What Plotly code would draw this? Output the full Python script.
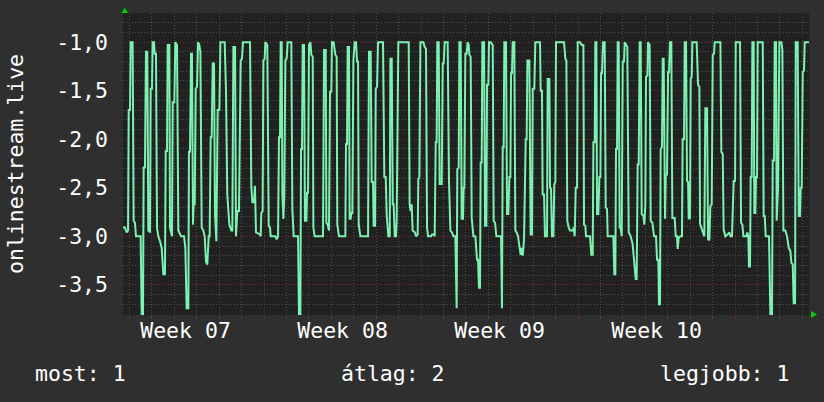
import pandas as pd
import plotly.graph_objects as go

# ---------------- data ----------------
start = pd.Timestamp("2024-02-12 17:06")
end = pd.Timestamp("2024-03-14 07:06")

hours = [
    0.0, 2.1, 3.9, 5.4, 6.1, 7.5, 8.2, 10.3, 11.4, 12.8, 13.9, 18.9, 20.0, 21.4, 22.1, 23.5,
    24.6, 26.0, 27.1, 28.9, 29.6, 31.0, 31.7, 33.2, 33.9, 35.3, 36.4, 37.8, 39.6, 41.4, 43.2, 44.9,
    45.7, 47.1, 47.8, 49.6, 50.3, 52.4, 53.2, 54.9, 56.0, 57.8, 59.2, 62.1, 65.3, 66.7, 68.1, 69.9,
    70.6, 71.7, 72.8, 73.8, 74.9, 75.6, 76.7, 77.8, 79.2, 80.3, 81.7, 82.8, 84.2, 86.0, 87.4, 88.8,
    90.2, 91.7, 92.7, 93.8, 94.9, 96.0, 97.4, 98.4, 99.9, 101.3, 103.1, 104.2, 108.8, 110.2, 111.6, 113.8,
    115.9, 117.0, 118.1, 119.9, 120.9, 122.3, 124.1, 124.8, 125.9, 127.3, 128.4, 135.9, 137.3, 138.4, 140.2, 141.2,
    142.3, 146.6,
    147.3, 148.0, 149.4, 150.2, 151.6, 152.3, 154.4, 155.9, 157.3, 158.0, 163.0, 164.4, 165.9, 166.9, 168.0, 168.7,
    169.8, 170.5, 171.6, 172.6, 173.7, 175.1, 176.2, 180.1, 181.2, 182.6, 187.3, 188.3, 189.8, 190.5, 191.5, 192.3,
    193.7, 194.7, 196.2, 196.9, 198.0, 199.0, 200.5, 201.5, 203.0, 203.7, 205.1, 214.0, 215.1, 216.9, 217.6, 219.0,
    220.4, 221.5, 222.9, 223.6, 225.4, 227.2, 228.6, 229.3, 231.1, 237.9, 238.6, 239.7, 240.4, 241.8, 242.5, 243.6,
    244.3, 245.4, 246.5, 247.9, 249.3, 250.4, 251.5, 252.2, 254.0, 262.2, 263.2, 265.0, 266.1, 267.5, 268.2, 269.7,
    270.4, 271.8, 272.9, 278.2, 279.6, 281.1, 282.1, 283.9, 285.4, 286.1, 287.5, 288.6, 289.6, 290.7, 292.1, 292.8,
    294.6, 305.7, 306.7, 307.8, 308.9, 309.9, 312.4, 313.5, 315.3, 316.0, 317.1, 318.2, 321.4, 322.8, 324.2, 325.3,
    326.4, 329.6, 330.6, 332.4, 333.5, 334.6, 335.6, 336.3, 337.8, 338.8, 341.0, 342.1, 343.1, 344.2, 347.4, 348.8,
    350.3, 352.0, 353.5, 355.6, 357.0, 357.7, 359.2, 359.9, 361.3, 362.4, 363.8, 364.5, 365.2, 366.3, 367.7, 368.8,
    369.9, 370.6, 372.0, 373.1, 374.9, 377.0, 378.8, 379.9, 380.9, 382.0, 382.7, 383.8, 384.5, 386.3, 387.4, 388.8,
    389.5, 390.9, 391.6, 393.4, 395.6, 396.6, 398.1, 399.5, 404.5, 405.5, 406.3, 407.3, 408.0, 409.8, 410.9, 412.3,
    413.4, 414.5, 415.2, 416.2, 417.0, 418.7, 419.8, 421.2, 422.7, 424.1, 425.5, 426.6, 427.7, 429.1, 430.9, 431.9,
    432.7, 434.8, 436.2, 437.6, 438.4, 440.1, 441.2,
    446.2, 446.9, 448.3, 449.0, 450.5, 451.5, 453.7, 454.4, 456.2, 456.9, 458.0, 459.0, 460.5, 461.5, 462.6, 463.3,
    471.9, 473.3, 474.4, 475.4, 476.9, 478.3, 481.2, 482.2, 483.3, 484.4, 485.8, 486.5, 489.0, 490.8, 492.6, 493.3,
    494.7, 495.4, 499.7, 501.1, 502.6, 503.3, 504.7, 505.4, 506.5, 507.2, 508.6, 509.7, 510.8, 511.5, 512.5, 513.6,
    515.4, 516.5, 517.9, 518.6, 524.7, 525.7, 526.8, 527.5, 528.6, 529.3, 530.4, 531.4, 532.5, 533.6, 534.7, 536.1,
    536.8, 538.6, 539.6, 541.1, 543.2, 545.3, 546.8, 548.6, 549.6, 550.7, 551.8, 552.8, 553.9, 555.0, 556.8, 557.8,
    558.9, 559.6, 561.1, 561.8, 563.5, 564.6, 566.4, 568.2, 570.3, 571.4, 572.8, 573.5, 574.6, 575.3, 576.7, 577.5,
    578.5, 579.2, 580.0, 580.7, 582.1, 583.2, 584.2, 585.3, 586.7, 587.8, 588.9,
    590.3, 591.4, 592.8, 593.5, 594.6, 596.3, 598.1, 598.8, 600.3, 601.0, 602.4, 603.5, 604.6, 605.3, 606.7, 607.4,
    608.5, 609.2, 613.8, 615.3, 616.7, 617.4, 618.8, 620.6, 622.0, 623.1, 624.9, 626.0, 627.4, 628.4, 629.9, 631.0,
    632.4, 633.1, 639.2, 640.2, 641.7, 642.7, 644.5, 647.0, 648.8, 649.9, 651.6, 653.4, 654.9, 655.6, 660.2, 661.3,
    662.7, 663.8, 667.0, 668.0, 669.1, 669.8, 670.9, 671.6, 672.7, 673.4, 674.8, 675.5, 676.6, 677.3, 678.4, 679.1,
    684.5, 685.5, 686.6, 687.7, 691.2, 692.7, 694.4, 695.2, 696.6, 697.3, 698.7, 699.4, 700.9, 702.3, 704.4, 705.5,
    706.6, 708.7, 710.5, 712.3, 714.1, 715.1, 716.6, 717.6, 719.1, 719.8, 721.9, 723.0, 724.4, 725.1, 726.2, 727.3,
    728.7, 729.4, 734.0,
]

values = [
    -2.91, -2.91, -2.96, -2.94, -1.70, -1.70, -1.00, -1.00, -2.84, -2.86, -3.00, -3.00, -3.81, -3.81, -2.29, -2.29,
    -1.10, -1.10, -2.94, -2.96, -1.48, -1.48, -1.00, -1.00, -1.12, -1.12, -2.91, -3.00, -3.05, -3.12, -3.39, -3.39,
    -2.12, -2.12, -1.03, -1.03, -2.91, -3.00, -1.62, -1.62, -1.00, -1.03, -2.94, -3.00, -3.00, -3.12, -3.74, -3.74,
    -2.13, -2.13, -1.12, -1.12, -2.88, -2.67, -2.67, -1.48, -1.46, -1.00, -1.03, -1.10, -2.91, -2.94, -3.00, -3.26,
    -3.29, -3.00, -3.00, -1.98, -1.98, -1.22, -1.22, -2.77, -3.05, -1.70, -1.70, -1.00, -1.00, -1.50, -2.57, -2.88,
    -2.94, -2.94, -1.05, -1.05, -3.00, -2.74, -2.74, -1.91, -1.19, -1.17, -1.00, -1.00, -2.48, -2.65, -2.65, -2.48,
    -2.96, -2.98,
    -3.00, -2.76, -2.74, -1.19, -1.17, -1.00, -1.03, -2.89, -2.91, -3.00, -3.00, -3.03, -3.00, -1.98, -1.98, -1.00,
    -1.00, -2.57, -2.82, -2.57, -1.19, -1.17, -1.00, -1.00, -2.72, -3.00, -3.00, -3.81, -3.81, -2.10, -2.10, -1.03,
    -1.03, -2.84, -2.84, -2.55, -2.55, -1.03, -1.00, -1.13, -1.15, -2.91, -3.00, -3.00, -1.08, -1.08, -2.86, -2.88,
    -2.94, -1.51, -1.51, -1.00, -1.00, -1.13, -1.15, -2.88, -3.00, -3.00, -2.05, -2.05, -1.05, -1.05, -2.82, -2.82,
    -2.76, -2.76, -1.19, -1.00, -1.00, -1.20, -1.20, -2.88, -3.00, -3.00, -1.10, -1.10, -2.44, -2.44, -2.89, -2.89,
    -1.48, -1.46, -1.00, -1.00, -2.39, -2.39, -2.77, -3.00, -3.00, -1.17, -1.17, -2.67, -2.67, -3.00, -3.00, -2.84,
    -1.00, -1.00, -2.67, -2.74, -2.67, -2.94, -2.96, -3.00, -2.98, -2.41, -2.39, -1.00, -1.00, -1.05, -1.07, -2.91,
    -3.00, -3.00, -2.98, -2.98, -3.00, -2.03, -2.03, -1.00, -1.00, -2.46, -2.46, -1.22, -1.22, -1.00, -1.00, -2.43,
    -2.94, -2.96, -3.00, -3.00, -3.74, -2.31, -2.29, -1.00, -1.00, -2.82, -2.82, -2.50, -2.50, -1.12, -1.12, -1.00,
    -1.03, -1.13, -1.15, -2.81, -3.00, -3.00, -3.24, -3.24, -3.53, -3.53, -2.24, -2.24, -1.00, -1.00, -2.89, -2.89,
    -1.44, -1.44, -1.00, -1.00, -1.03, -2.84, -2.86, -3.00, -3.00, -3.74, -2.08, -2.08, -1.00, -1.00, -2.77, -2.77,
    -2.39, -2.39, -1.32, -1.32, -1.00, -1.00, -2.94, -2.96, -3.00, -3.10, -3.19, -3.12, -3.20, -3.03, -2.00, -2.00,
    -1.19, -1.19, -2.98, -2.98, -1.48, -1.48, -1.00,
    -1.00, -1.50, -1.50, -2.57, -2.57, -3.00, -3.00, -1.38, -1.38, -2.50, -2.51, -3.00, -3.00, -2.46, -2.44, -1.00,
    -1.00, -1.17, -1.19, -2.84, -2.91, -2.94, -2.94, -2.91, -3.00, -2.50, -2.50, -1.00, -1.00, -1.03, -1.03, -2.88,
    -2.89, -3.00, -3.00, -3.19, -3.19, -2.03, -2.03, -1.00, -1.00, -2.77, -2.77, -2.39, -2.39, -1.32, -1.32, -1.00,
    -1.00, -2.70, -2.72, -3.00, -3.00, -3.39, -3.39, -2.10, -2.10, -1.00, -1.00, -2.91, -2.91, -3.00, -1.20, -1.20,
    -1.00, -1.03, -1.05, -2.96, -3.00, -3.08, -3.24, -3.44, -3.44, -2.26, -2.26, -1.00, -1.00, -2.77, -2.79, -2.88,
    -2.67, -1.36, -1.34, -1.00, -1.03, -2.84, -2.86, -3.00, -3.00, -3.24, -3.24, -3.70, -3.70, -2.10, -2.08, -1.17,
    -1.17, -2.76, -2.82, -2.38, -2.36, -1.31, -1.31, -1.00, -1.00, -2.81, -2.81,
    -2.81, -3.00, -3.00, -3.13, -3.01, -3.00, -3.00, -2.00, -2.00, -1.00, -1.00, -2.43, -2.44, -2.82, -2.81, -1.38,
    -1.36, -1.00, -1.00, -1.44, -1.46, -2.87, -2.91, -2.98, -3.00, -1.68, -1.68, -3.03, -3.04, -2.69, -2.67, -1.13,
    -1.12, -1.00, -1.00, -2.13, -2.15, -2.93, -3.00, -2.98, -2.96, -3.00, -3.00, -2.43, -2.43, -1.00, -1.00, -2.86,
    -2.88, -3.00, -3.00, -2.96, -3.00, -3.31, -3.31, -2.39, -2.39, -1.00, -1.00, -2.76, -2.76, -2.39, -2.39, -1.00,
    -1.00, -2.79, -2.79, -3.00, -3.00, -3.81, -3.81, -2.22, -2.22, -1.00, -1.00, -2.84, -2.50, -1.00, -1.00, -1.08,
    -2.94, -2.94, -3.00, -3.12, -3.15, -3.27, -3.29, -3.69, -3.69, -1.00, -1.00, -2.79, -2.79, -2.50, -2.50, -1.31,
    -1.29, -1.00, -1.00,
]

week_starts = ["2024-02-19", "2024-02-26", "2024-03-04", "2024-03-11"]
week_label_pos = ["2024-02-15 12:00", "2024-02-22 12:00", "2024-02-29 12:00", "2024-03-07 12:00"]
week_labels = ["Week 07", "Week 08", "Week 09", "Week 10"]

y_ticks = [-3.5, -3.0, -2.5, -2.0, -1.5, -1.0]
y_tick_text = ["-3,5", "-3,0", "-2,5", "-2,0", "-1,5", "-1,0"]

y_title = "onlinestream.live"
legend_items = ["most: 1", "átlag: 2", "legjobb: 1"]

# ---------------- figure ----------------
times = start + pd.to_timedelta(hours, unit="h")

FONT = "DejaVu Sans Mono"
FS = 21.5
TXT = "#ffffff"
RED = "#7a2c2c"
GRAY = "#4f4f4f"
DOT = "1px,2px"
BG = "#2f2f2f"

fig = go.Figure()
fig.add_trace(go.Scatter(
    x=times, y=values, mode="lines",
    line=dict(color="#7cf2b0", width=2),
    hoverinfo="skip", showlegend=False,
))
# label axis carrier (no visible points)
fig.add_trace(go.Scatter(
    x=week_label_pos, y=[None] * len(week_label_pos), xaxis="x2",
    mode="lines", hoverinfo="skip", showlegend=False,
))

fig.update_layout(
    width=824, height=402,
    margin=dict(l=123, r=15, t=13, b=87),
    paper_bgcolor=BG,
    plot_bgcolor="#212121",
    font=dict(family=FONT, size=FS, color=TXT),
    showlegend=False,
    xaxis=dict(
        type="date", range=[start, end],
        tickmode="array", tickvals=week_starts, showticklabels=False,
        showgrid=True, gridcolor=RED, gridwidth=1, griddash=DOT,
        ticks="outside", ticklen=3, tickcolor=RED,
        minor=dict(dtick=86400000, tick0="2024-02-12", showgrid=True,
                   gridcolor=GRAY, gridwidth=1, griddash=DOT,
                   ticks="outside", ticklen=2, tickcolor="#555555"),
        zeroline=False, showline=False, fixedrange=True,
    ),
    xaxis2=dict(
        type="date", range=[start, end], overlaying="x", anchor="y", side="bottom",
        tickmode="array", tickvals=week_label_pos, ticktext=week_labels,
        showgrid=False, ticks="", ticklabelstandoff=0,
        tickfont=dict(family=FONT, size=FS, color=TXT),
        zeroline=False, showline=False,
    ),
    yaxis=dict(
        range=[-3.81, -0.70],
        tickmode="array", tickvals=y_ticks, ticktext=y_tick_text,
        showgrid=True, gridcolor=RED, gridwidth=1, griddash=DOT,
        minor=dict(dtick=0.1, tick0=0, showgrid=True, gridcolor=GRAY,
                   gridwidth=1, griddash=DOT),
        ticks="", ticklabelstandoff=14,
        tickfont=dict(family=FONT, size=FS, color=TXT),
        zeroline=False, showline=False,
    ),
)

fig.add_annotation(
    text=y_title, xref="paper", yref="paper", x=-0.1574, y=0.5,
    textangle=-90, showarrow=False, xanchor="center", yanchor="middle",
    font=dict(family=FONT, size=FS, color=TXT),
)
fig.add_annotation(text=legend_items[0], xref="paper", yref="paper", x=-0.131, y=-0.195,
                   xanchor="left", yanchor="middle", showarrow=False,
                   font=dict(family=FONT, size=FS, color=TXT))
fig.add_annotation(text=legend_items[1], xref="paper", yref="paper", x=0.394, y=-0.195,
                   xanchor="center", yanchor="middle", showarrow=False,
                   font=dict(family=FONT, size=FS, color=TXT))
fig.add_annotation(text=legend_items[2], xref="paper", yref="paper", x=0.974, y=-0.195,
                   xanchor="right", yanchor="middle", showarrow=False,
                   font=dict(family=FONT, size=FS, color=TXT))

# axis arrows
fig.add_shape(type="path", xref="paper", yref="paper",
              path="M 0.0026 1.0182 L -0.0022 1.0 L 0.0073 1.0 Z",
              fillcolor="#00d000", line=dict(width=0))
fig.add_shape(type="path", xref="paper", yref="paper",
              path="M 1.0117 0.0017 L 1.0029 0.0133 L 1.0029 -0.0099 Z",
              fillcolor="#00d000", line=dict(width=0))

fig.write_html(
    "out.html",
    config={"displayModeBar": False, "staticPlot": True},
    post_script="document.body.style.margin='0px';document.body.style.backgroundColor='%s';" % BG,
)
